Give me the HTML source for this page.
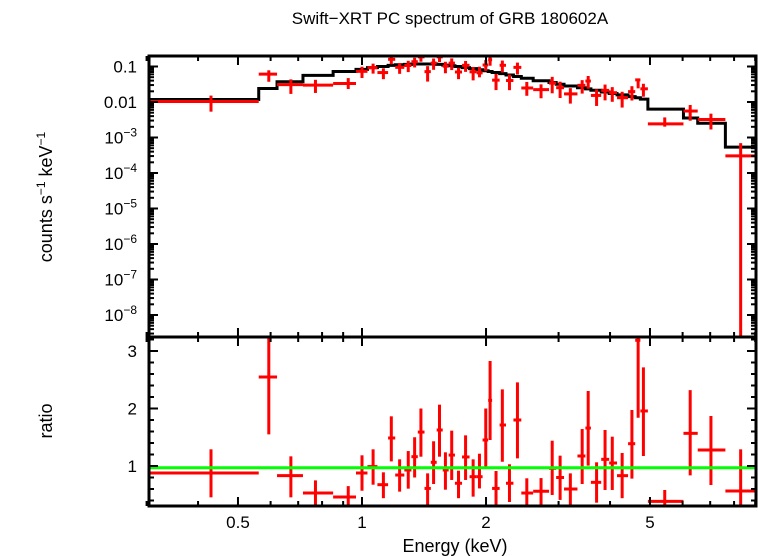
<!DOCTYPE html>
<html><head><meta charset="utf-8"><style>
body{margin:0;background:#fff;}
svg{display:block;font-family:"Liberation Sans",sans-serif;}
</style></head><body>
<svg id="c" width="758" height="556" viewBox="0 0 758 556"></svg>
<script>
const edges=[0.30,0.5615,0.622,0.719,0.851,0.967,1.031,1.090,1.157,1.204,1.267,1.318,1.366,1.418,1.469,1.518,1.570,1.623,1.681,1.749,1.824,1.898,1.962,2.024,2.069,2.158,2.236,2.331,2.436,2.603,2.844,2.960,3.093,3.334,3.485,3.594,3.807,3.980,4.159,4.424,4.604,4.739,4.942,6.029,6.529,7.621,9.07];
const centers=[0.43,0.594,0.672,0.771,0.926,1.0,1.064,1.127,1.178,1.234,1.295,1.342,1.39,1.443,1.492,1.542,1.594,1.651,1.715,1.784,1.861,1.928,1.997,2.046,2.115,2.191,2.28,2.384,2.512,2.72,2.895,3.026,3.204,3.423,3.54,3.71,3.89,4.05,4.28,4.52,4.68,4.82,5.43,6.26,7.03,8.3];
const ratio=[0.878,2.548,0.832,0.53,0.46,0.878,0.99,0.675,1.487,0.843,0.93,1.162,1.59,0.61,1.064,1.626,0.93,1.19,0.70,1.157,0.814,0.814,1.452,2.142,0.61,1.713,0.70,1.8,0.53,0.56,0.96,0.80,0.6,1.174,1.66,0.716,1.116,1.052,0.832,1.388,3.186,1.957,0.385,1.568,1.278,0.565];
const ratioHi=[1.29,3.26,1.168,0.75,0.65,1.186,1.29,0.89,1.864,1.116,1.26,1.5,2.0,0.872,1.43,2.067,1.238,1.615,0.919,1.533,1.116,1.214,2.0,2.826,0.913,2.333,1.03,2.455,0.786,0.79,1.44,1.18,0.872,1.643,2.304,1.064,1.626,1.51,1.226,1.974,3.26,2.716,0.583,2.32,1.87,1.29];
const ratioLo=[0.455,1.55,0.455,0.32,0.32,0.57,0.675,0.44,1.08,0.554,0.606,0.80,1.162,0.32,0.687,1.162,0.588,0.757,0.44,0.757,0.467,0.61,0.99,1.452,0.32,1.075,0.374,1.133,0.32,0.32,0.496,0.41,0.32,0.687,1.006,0.362,0.583,0.583,0.44,0.78,1.84,1.174,0.32,0.838,0.67,0];
const modelLog=[-1.93,-1.62,-1.43,-1.25,-1.14,-1.08,-1.03,-1.0,-0.97,-0.95,-0.94,-0.93,-0.93,-0.93,-0.93,-0.94,-0.96,-0.98,-1.0,-1.03,-1.06,-1.09,-1.12,-1.14,-1.17,-1.2,-1.24,-1.28,-1.33,-1.4,-1.45,-1.5,-1.55,-1.6,-1.63,-1.67,-1.72,-1.76,-1.8,-1.85,-1.88,-1.92,-2.2,-2.45,-2.6,-3.27];
const xTickVals=[0.5,1,2,5];
const xTickLabels=["0.5","1","2","5"];
const yTopExps=[-1,-2,-3,-4,-5,-6,-7,-8];
const ratioTicks=[1,2,3];

const L=149,R=756,T1=56,B1=337,B2=506;
const x=e=>362+412*Math.log10(e);
const yTop=c=>66.5+(-1-Math.log10(c))*35.5;
const yRat=r=>466-(r-1)*57.5;
const svg=document.getElementById('c');
const NS='http://www.w3.org/2000/svg';
function mk(tag,attrs,parent){const el=document.createElementNS(NS,tag);for(const k in attrs)el.setAttribute(k,attrs[k]);(parent||svg).appendChild(el);return el;}
function ln(x1,y1,x2,y2,col,w,parent){return mk('line',{x1,y1,x2,y2,stroke:col,'stroke-width':w},parent);}

const defs=mk('defs',{});
const c1=mk('clipPath',{id:'cp1'},defs);mk('rect',{x:L,y:T1,width:R-L,height:B1-T1},c1);
const c2=mk('clipPath',{id:'cp2'},defs);mk('rect',{x:L,y:B1,width:R-L,height:B2-B1},c2);
const g1=mk('g',{'clip-path':'url(#cp1)'});


const g2=mk('g',{'clip-path':'url(#cp2)'});



let d='';
for(let i=0;i<modelLog.length;i++){
  const yy=yTop(Math.pow(10,modelLog[i]));
  d+=(i===0?'M':'L')+x(edges[i])+','+yy+'L'+x(edges[i+1])+','+yy;
}
const model=mk('path',{d,fill:'none',stroke:'#000','stroke-width':3},g1);



for(let i=0;i<ratio.length;i++){
  const m=Math.pow(10,modelLog[i]);
  const xc=x(centers[i]);
  const g=mk('g',{},g1);
  
  
  ln(x(edges[i]),yTop(ratio[i]*m),x(edges[i+1]),yTop(ratio[i]*m),'#f00',3,g);
  const lo=ratioLo[i]>0?yTop(ratioLo[i]*m):B1+5;
  ln(xc,yTop(ratioHi[i]*m),xc,lo,'#f00',3,g);
  const h=mk('g',{},g2);
  
  
  ln(x(edges[i]),yRat(ratio[i]),x(edges[i+1]),yRat(ratio[i]),'#f00',3,h);
  ln(xc,yRat(ratioHi[i]),xc,Math.min(yRat(Math.max(ratioLo[i],0)),B2+5),'#f00',3,h);
}
const gl=ln(L,yRat(0.97),R,yRat(0.97),'#0f0',3,g2);



const f1=mk('rect',{x:L,y:T1,width:R-L,height:B1-T1,fill:'none',stroke:'#000','stroke-width':3});


const f2=mk('rect',{x:L,y:B1,width:R-L,height:B2-B1,fill:'none',stroke:'#000','stroke-width':3});



const minorX=[0.3,0.4,0.6,0.7,0.8,0.9,3,4,6,7,8,9];
for(const v of minorX){const xx=x(v);
  ln(xx,T1,xx,T1+5,'#000',2);ln(xx,B1-5,xx,B1+5,'#000',2);ln(xx,B2,xx,B2-5,'#000',2);}
xTickVals.forEach((v,i)=>{const xx=x(v);
  ln(xx,T1,xx,T1+9,'#000',2);ln(xx,B1-9,xx,B1+9,'#000',2);ln(xx,B2,xx,B2-9,'#000',2);
  const t=mk('text',{x:xx,y:528,'text-anchor':'middle','font-size':17});t.textContent=xTickLabels[i];
  
  
});
for(let e=-1;e>=-9;e--){for(let k=1;k<10;k++){const yy=yTop(k*Math.pow(10,e));
  if(yy<T1||yy>B1)continue;const len=k===1?9:5;
  ln(L,yy,L+len,yy,'#000',2);ln(R,yy,R-len,yy,'#000',2);}}
yTopExps.forEach(e=>{const yy=yTop(Math.pow(10,e));
  const t=mk('text',{x:137,y:yy+6,'text-anchor':'end','font-size':17});
  
  
  if(e===-1)t.textContent='0.1';else if(e===-2)t.textContent='0.01';
  else{t.textContent='10';const s=mk('tspan',{dy:-7,'font-size':12},t);s.textContent='\u2212'+(-e);}
});
for(let r=0.4;r<3.25;r+=0.2){const yy=yRat(r);const maj=Math.abs(r-Math.round(r))<0.01;
  ln(L,yy,L+(maj?9:5),yy,'#000',2);ln(R,yy,R-(maj?9:5),yy,'#000',2);}
ratioTicks.forEach(r=>{const t=mk('text',{x:137,y:yRat(r)+6,'text-anchor':'end','font-size':17});t.textContent=String(r);
  
  });

let t=mk('text',{x:450,y:24,'text-anchor':'middle','font-size':17});t.textContent='Swift\u2212XRT PC spectrum of GRB 180602A';

t=mk('text',{x:455,y:552,'text-anchor':'middle','font-size':18});t.textContent='Energy (keV)';

t=mk('text',{x:0,y:0,'text-anchor':'middle','font-size':18,transform:'translate(52,197) rotate(-90)'});
t.textContent='counts s';let s=mk('tspan',{dy:-7,'font-size':12},t);s.textContent='\u22121';
s=mk('tspan',{dy:7},t);s.textContent=' keV';s=mk('tspan',{dy:-7,'font-size':12},t);s.textContent='\u22121';

t=mk('text',{x:0,y:0,'text-anchor':'middle','font-size':18,transform:'translate(52,421) rotate(-90)'});t.textContent='ratio';

</script>
</body></html>
